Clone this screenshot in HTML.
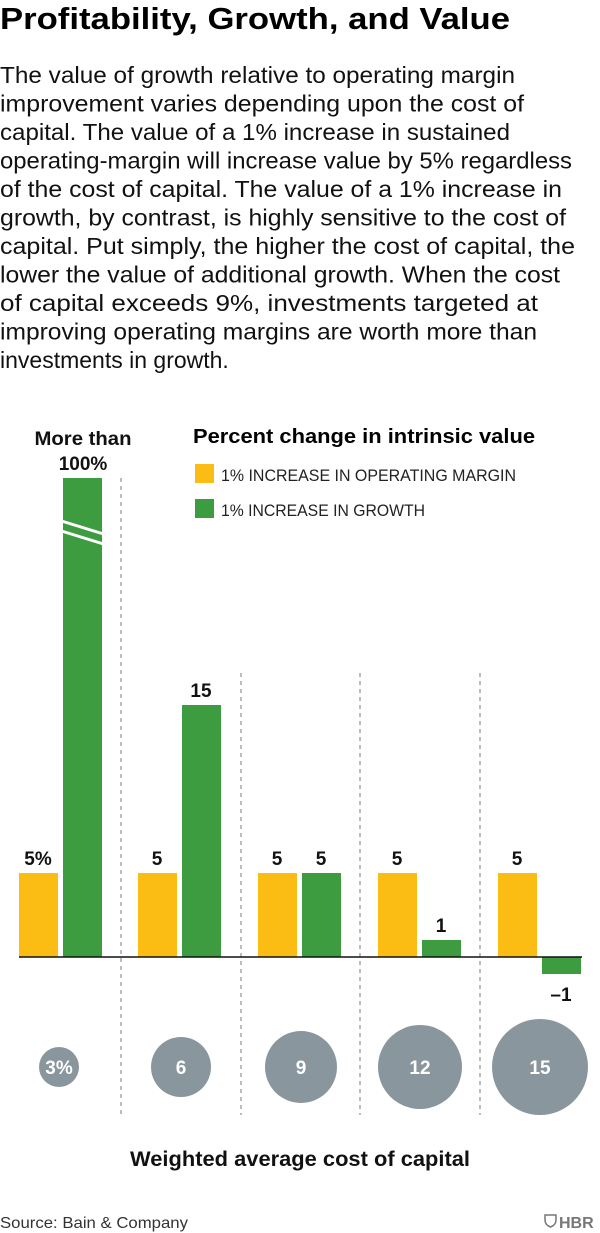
<!DOCTYPE html>
<html><head><meta charset="utf-8"><style>html,body{margin:0;padding:0;background:#fff}svg{display:block}</style></head>
<body>
<svg width="600" height="1233" viewBox="0 0 600 1233" xmlns="http://www.w3.org/2000/svg" font-family="Liberation Sans, sans-serif">
<text x="0" y="29" font-size="31" font-weight="bold" textLength="510" lengthAdjust="spacingAndGlyphs" fill="#000">Profitability, Growth, and Value</text>
<g font-size="23" fill="#111">
<text x="0" y="83" textLength="515" lengthAdjust="spacingAndGlyphs">The value of growth relative to operating margin</text>
<text x="0" y="111.5" textLength="524" lengthAdjust="spacingAndGlyphs">improvement varies depending upon the cost of</text>
<text x="0" y="140" textLength="510" lengthAdjust="spacingAndGlyphs">capital. The value of a 1% increase in sustained</text>
<text x="0" y="168.5" textLength="572" lengthAdjust="spacingAndGlyphs">operating-margin will increase value by 5% regardless</text>
<text x="0" y="197" textLength="562" lengthAdjust="spacingAndGlyphs">of the cost of capital. The value of a 1% increase in</text>
<text x="0" y="225.5" textLength="566" lengthAdjust="spacingAndGlyphs">growth, by contrast, is highly sensitive to the cost of</text>
<text x="0" y="254" textLength="575" lengthAdjust="spacingAndGlyphs">capital. Put simply, the higher the cost of capital, the</text>
<text x="0" y="282.5" textLength="560" lengthAdjust="spacingAndGlyphs">lower the value of additional growth. When the cost</text>
<text x="0" y="311" textLength="538" lengthAdjust="spacingAndGlyphs">of capital exceeds 9%, investments targeted at</text>
<text x="0" y="339.5" textLength="537" lengthAdjust="spacingAndGlyphs">improving operating margins are worth more than</text>
<text x="0" y="368">investments in growth.</text>
</g>
<g stroke="#999" stroke-width="1.3" stroke-dasharray="4,4">
<line x1="121" y1="478" x2="121" y2="1115"/>
<line x1="241" y1="673" x2="241" y2="1115"/>
<line x1="360" y1="673" x2="360" y2="1115"/>
<line x1="480" y1="673" x2="480" y2="1115"/>
</g>
<text x="193" y="443" font-size="20" font-weight="bold" textLength="342" lengthAdjust="spacingAndGlyphs">Percent change in intrinsic value</text>
<rect x="195" y="464" width="19" height="19" fill="#fbbc13"/>
<text x="221" y="481" font-size="17" textLength="295" lengthAdjust="spacingAndGlyphs" fill="#222">1% INCREASE IN OPERATING MARGIN</text>
<rect x="195" y="499" width="19" height="19" fill="#3e9c40"/>
<text x="221" y="516" font-size="17" textLength="204" lengthAdjust="spacingAndGlyphs" fill="#222">1% INCREASE IN GROWTH</text>
<g fill="#fbbc13">
<rect x="19" y="873" width="39" height="84"/>
<rect x="138" y="873" width="39" height="84"/>
<rect x="258" y="873" width="39" height="84"/>
<rect x="378" y="873" width="39" height="84"/>
<rect x="498" y="873" width="39" height="84"/>
</g>
<g fill="#3e9c40">
<rect x="63" y="478" width="39" height="479"/>
<rect x="182" y="705" width="39" height="252"/>
<rect x="302" y="873" width="39" height="84"/>
<rect x="422" y="940" width="39" height="17"/>
<rect x="542" y="957" width="39" height="17"/>
</g>
<g stroke="#fff" stroke-width="3">
<line x1="55" y1="519" x2="110" y2="536"/>
<line x1="55" y1="529" x2="110" y2="546"/>
</g>
<line x1="19" y1="957" x2="582" y2="957" stroke="#111" stroke-width="1.5"/>
<g font-size="19" font-weight="bold" text-anchor="middle" fill="#111">
<text x="83" y="445" textLength="97" lengthAdjust="spacingAndGlyphs">More than</text>
<text x="83" y="470">100%</text>
<text x="38" y="865">5%</text>
<text x="157" y="865">5</text>
<text x="201" y="697">15</text>
<text x="277" y="865">5</text>
<text x="321" y="865">5</text>
<text x="397" y="865">5</text>
<text x="441" y="932">1</text>
<text x="517" y="865">5</text>
<text x="561" y="1001">–1</text>
</g>
<g fill="#8a969e">
<circle cx="59" cy="1067" r="20"/>
<circle cx="181" cy="1067" r="30"/>
<circle cx="301" cy="1067" r="36"/>
<circle cx="420" cy="1067" r="42"/>
<circle cx="540" cy="1067" r="48"/>
</g>
<g font-size="19" font-weight="bold" text-anchor="middle" fill="#fff">
<text x="59" y="1074">3%</text>
<text x="181" y="1074">6</text>
<text x="301" y="1074">9</text>
<text x="420" y="1074">12</text>
<text x="540" y="1074">15</text>
</g>
<text x="300" y="1166" font-size="21" font-weight="bold" text-anchor="middle" textLength="340" lengthAdjust="spacingAndGlyphs" fill="#111">Weighted average cost of capital</text>
<text x="0" y="1228" font-size="16" textLength="188" lengthAdjust="spacingAndGlyphs" fill="#333">Source: Bain &amp; Company</text>
<path d="M545 1215 h11 v5 q0 5 -5.5 7 q-5.5 -2 -5.5 -7 z" fill="none" stroke="#777" stroke-width="1.5"/>
<text x="559" y="1228" font-size="16" font-weight="bold" fill="#777">HBR</text>
</svg>
</body></html>
